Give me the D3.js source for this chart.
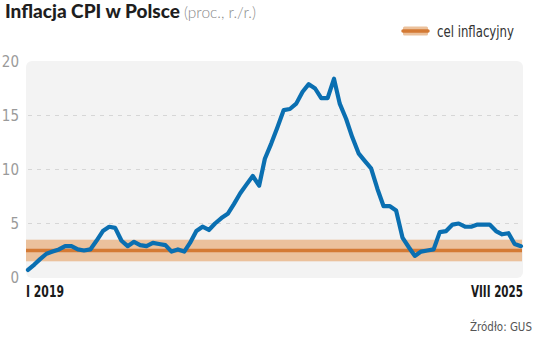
<!DOCTYPE html>
<html>
<head>
<meta charset="utf-8">
<script src="https://cdn.jsdelivr.net/npm/d3@7"></script>
<style>
  body { margin: 0; background: #fff; }
  svg { display: block; }
  .cond { font-family: "Liberation Sans Narrow", "DejaVu Sans Condensed", "Roboto", sans-serif; }
</style>
</head>
<body>
<svg id="chart" width="536" height="338"></svg>
<script>
// CPI r/r, I 2019 - VIII 2025
const cpi2019 = [0.7, 1.2, 1.7, 2.2, 2.4, 2.6, 2.9, 2.9, 2.6, 2.5, 2.6, 3.4];
const cpi2020 = [4.3, 4.7, 4.6, 3.4, 2.9, 3.3, 3.0, 2.9, 3.2, 3.1, 3.0, 2.4];
const cpi2021 = [2.6, 2.4, 3.2, 4.3, 4.7, 4.4, 5.0, 5.5, 5.9, 6.8, 7.8, 8.6];
const cpi2022 = [9.4, 8.5, 11.0, 12.4, 13.9, 15.5, 15.6, 16.1, 17.2, 17.9, 17.5, 16.6];
const cpi2023 = [16.6, 18.4, 16.1, 14.7, 13.0, 11.5, 10.8, 10.1, 8.2, 6.6, 6.6, 6.2];
const cpi2024 = [3.7, 2.8, 2.0, 2.4, 2.5, 2.6, 4.2, 4.3, 4.9, 5.0, 4.7, 4.7];
const cpi2025 = [4.9, 4.9, 4.9, 4.3, 4.0, 4.1, 3.1, 2.9];

const target = 2.5;
const targetBand = [1.5, 3.5];
const yTicks = [0, 5, 10, 15, 20];
const xLabels = ["I 2019", "VIII 2025"];

const values = [].concat(cpi2019, cpi2020, cpi2021, cpi2022, cpi2023, cpi2024, cpi2025);
const data = values.map((v, i) => ({ date: new Date(2019, i, 1), value: v }));

const svg = d3.select("#chart");

const plot = { left: 26, right: 523, top: 61, bottom: 278 };

const x = d3.scaleTime()
  .domain(d3.extent(data, d => d.date))
  .range([28, 521]);

const y = d3.scaleLinear()
  .domain([0, 20])
  .range([277.5, 61.5]);

// squeeze a text horizontally so it spans `width` px, anchored at left or right
function fitText(sel, px, py, width, anchorRight) {
  const w = sel.node().getComputedTextLength();
  const k = Math.min(1, width / w);
  const x0 = anchorRight ? px - w * k : px;
  sel.attr("x", 0).attr("y", 0)
    .attr("transform", `translate(${x0},${py}) scale(${k},1)`);
}

// background
svg.append("rect")
  .attr("x", plot.left)
  .attr("y", plot.top)
  .attr("width", plot.right - plot.left)
  .attr("height", plot.bottom - plot.top)
  .attr("rx", 6)
  .attr("fill", "#f3f3f3");

// gridlines
svg.append("g")
  .selectAll("line")
  .data(yTicks.filter(t => t > 0 && t < 20))
  .join("line")
  .attr("x1", plot.left + 2)
  .attr("x2", plot.right)
  .attr("y1", d => y(d))
  .attr("y2", d => y(d))
  .attr("stroke", "#d6d6d6")
  .attr("stroke-width", 1)
  .attr("stroke-dasharray", "4,5");

// y labels
svg.append("g")
  .attr("class", "cond")
  .selectAll("text")
  .data(yTicks)
  .join("text")
  .attr("x", 19)
  .attr("y", d => y(d) + 5)
  .attr("text-anchor", "end")
  .attr("font-size", 15)
  .attr("font-weight", 300)
  .attr("fill", "#9a9a9a")
  .text(d => d);

// target band
svg.append("rect")
  .attr("x", plot.left)
  .attr("y", y(targetBand[1]))
  .attr("width", 522 - plot.left)
  .attr("height", y(targetBand[0]) - y(targetBand[1]))
  .attr("fill", "#ebc19c");

svg.append("line")
  .attr("x1", plot.left)
  .attr("x2", 522)
  .attr("y1", y(target))
  .attr("y2", y(target))
  .attr("stroke", "#d47a34")
  .attr("stroke-width", 3.5);

// CPI line
const line = d3.line()
  .x(d => x(d.date))
  .y(d => y(d.value));

svg.append("path")
  .datum(data)
  .attr("d", line)
  .attr("fill", "none")
  .attr("stroke", "#0a6fb1")
  .attr("stroke-width", 4.2)
  .attr("stroke-linejoin", "round")
  .attr("stroke-linecap", "round");

// x labels
const xl0 = svg.append("text")
  .attr("class", "cond")
  .attr("font-size", 15)
  .attr("font-weight", 600)
  .attr("fill", "#1a1a1a")
  .text(xLabels[0]);
fitText(xl0, plot.left, 296.5, 38, false);

const xl1 = svg.append("text")
  .attr("class", "cond")
  .attr("font-size", 15)
  .attr("font-weight", 600)
  .attr("fill", "#1a1a1a")
  .text(xLabels[1]);
fitText(xl1, plot.right, 296.5, 52, true);

// title
const t1 = svg.append("text")
  .attr("font-family", "Lato, 'Open Sans', sans-serif")
  .attr("font-size", 19)
  .attr("font-weight", 900)
  .attr("fill", "#1e1e1e")
  .text("Inflacja CPI w Polsce");
fitText(t1, 5, 18, 175, false);

const t2 = svg.append("text")
  .attr("font-family", "Lato, 'Open Sans', sans-serif")
  .attr("font-size", 15.5)
  .attr("font-weight", 300)
  .attr("fill", "#8a8a8a")
  .text("(proc., r./r.)");
fitText(t2, 184, 18, 78, false);

// legend
const legend = svg.append("g").attr("transform", "translate(403,31)");
legend.append("rect")
  .attr("x", 0)
  .attr("y", -4.5)
  .attr("width", 25)
  .attr("height", 9)
  .attr("rx", 1.5)
  .attr("fill", "#ebc19c");
legend.append("line")
  .attr("x1", 0)
  .attr("x2", 25)
  .attr("stroke", "#d47a34")
  .attr("stroke-width", 3.5)
  .attr("stroke-linecap", "round");
const lt = legend.append("text")
  .attr("class", "cond")
  .attr("font-size", 15.5)
  .attr("font-weight", 300)
  .attr("fill", "#333")
  .text("cel inflacyjny");
fitText(lt, 34, 5.5, 77, false);

// source
const src = svg.append("text")
  .attr("class", "cond")
  .attr("font-size", 13)
  .attr("font-weight", 300)
  .attr("fill", "#555")
  .text("Źródło: GUS");
fitText(src, 532, 331, 62, true);
</script>
</body>
</html>
